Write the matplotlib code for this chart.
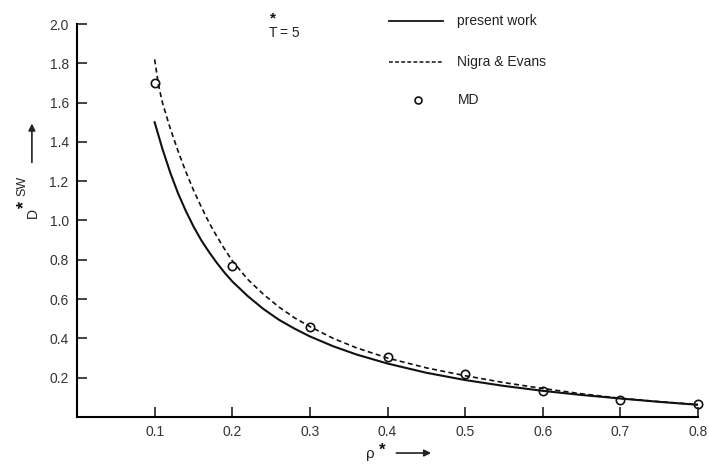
import matplotlib
matplotlib.use("Agg")
import matplotlib.pyplot as plt

plt.rcParams['font.family'] = ['Liberation Sans', 'DejaVu Sans']

# Data
rho_present = [0.10, 0.11, 0.12, 0.13, 0.14, 0.15, 0.16, 0.17, 0.18, 0.19, 0.20,
               0.22, 0.24, 0.26, 0.28, 0.30, 0.33, 0.36, 0.40, 0.45, 0.50, 0.55,
               0.60, 0.65, 0.70, 0.75, 0.80]
d_present = [1.50, 1.365, 1.245, 1.14, 1.05, 0.97, 0.90, 0.84, 0.785, 0.735, 0.69,
             0.615, 0.55, 0.495, 0.45, 0.41, 0.36, 0.318, 0.272, 0.225, 0.188, 0.158,
             0.133, 0.112, 0.094, 0.077, 0.062]

rho_nigra = [0.10, 0.105, 0.11, 0.12, 0.13, 0.14, 0.15, 0.16, 0.17, 0.18, 0.19, 0.20,
             0.22, 0.24, 0.26, 0.28, 0.30, 0.33, 0.36, 0.40, 0.45, 0.50, 0.55,
             0.60, 0.65, 0.70, 0.75, 0.80]
d_nigra = [1.82, 1.69, 1.60, 1.47, 1.355, 1.25, 1.155, 1.07, 0.99, 0.92, 0.855, 0.795,
           0.70, 0.625, 0.56, 0.505, 0.46, 0.40, 0.352, 0.30, 0.25, 0.21, 0.175,
           0.145, 0.118, 0.095, 0.078, 0.063]

rho_md = [0.1, 0.2, 0.3, 0.4, 0.5, 0.6, 0.7, 0.8]
d_md = [1.70, 0.77, 0.46, 0.305, 0.22, 0.13, 0.085, 0.065]

xticks = [0.1, 0.2, 0.3, 0.4, 0.5, 0.6, 0.7, 0.8]
xticklabels = ["0.1", "0.2", "0.3", "0.4", "0.5", "0.6", "0.7", "0.8"]
yticks = [0.2, 0.4, 0.6, 0.8, 1.0, 1.2, 1.4, 1.6, 1.8, 2.0]
yticklabels = ["0.2", "0.4", "0.6", "0.8", "1.0", "1.2", "1.4", "1.6", "1.8", "2.0"]

fig = plt.figure(figsize=(7.09, 4.68), dpi=100)
ax = fig.add_axes([0.1086, 0.109, 0.876, 0.8397])

ax.plot(rho_present, d_present, '-', color='#111111', lw=1.5)
ax.plot(rho_nigra, d_nigra, color='#111111', lw=1.2, linestyle=(0, (3, 2)))
ax.plot(rho_md, d_md, 'o', mfc='none', mec='#111111', ms=6, mew=1.2, clip_on=False)

ax.set_xlim(0, 0.8)
ax.set_ylim(0, 2.0)
ax.spines['top'].set_visible(False)
ax.spines['right'].set_visible(False)
ax.spines['left'].set_linewidth(1.5)
ax.spines['bottom'].set_linewidth(1.5)
ax.set_xticks(xticks)
ax.set_xticklabels(xticklabels)
ax.set_yticks(yticks)
ax.set_yticklabels(yticklabels)
ax.tick_params(direction='in', length=7, width=1.2, labelsize=10, colors='#222222', pad=6)
for lab in ax.get_yticklabels() + ax.get_xticklabels():
    lab.set_color('#333333')

# Legend drawn manually
ax.plot([0.402, 0.472], [2.015, 2.015], '-', color='#111111', lw=1.3, clip_on=False)
ax.text(0.49, 2.015, "present work", fontsize=10, va='center', color='#222222')
ax.plot([0.402, 0.472], [1.807, 1.807], color='#111111', lw=1.1, linestyle=(0, (2.5, 1.5)), clip_on=False)
ax.text(0.49, 1.807, "Nigra & Evans", fontsize=10, va='center', color='#222222')
ax.plot([0.439], [1.613], 'o', mfc='none', mec='#111111', ms=5, mew=1.2)
ax.text(0.49, 1.613, "MD", fontsize=10, va='center', color='#222222')

# T* = 5 annotation
ax.text(0.247, 1.99, "T", fontsize=10, va='top', color='#222222')
ax.text(0.2485, 1.995, "*", fontsize=11, fontweight='bold', va='bottom', color='#111111')
ax.text(0.262, 1.99, "= 5", fontsize=10, va='top', color='#222222')

# Y axis label with arrow
fig.text(0.047, 0.545, "D", rotation=90, fontsize=10, ha='center', va='center', color='#222222')
fig.text(0.035, 0.563, "*", rotation=90, fontsize=13, fontweight='bold', ha='center', va='center', color='#111111')
fig.text(0.031, 0.603, "SW", rotation=90, fontsize=9, ha='center', va='center', color='#222222')
fig.patches.append(matplotlib.patches.FancyArrowPatch((0.045, 0.647), (0.045, 0.742),
                   transform=fig.transFigure, arrowstyle='-|>', mutation_scale=10,
                   color='#222222', lw=1.2))

# X axis label with arrow
fig.text(0.522, 0.03, "ρ", fontsize=11, ha='center', va='center', color='#222222')
fig.text(0.539, 0.038, "*", fontsize=12, fontweight='bold', ha='center', va='center', color='#111111')
fig.patches.append(matplotlib.patches.FancyArrowPatch((0.555, 0.032), (0.612, 0.032),
                   transform=fig.transFigure, arrowstyle='-|>', mutation_scale=10,
                   color='#222222', lw=1.2))

fig.savefig("out.png", dpi=100)
